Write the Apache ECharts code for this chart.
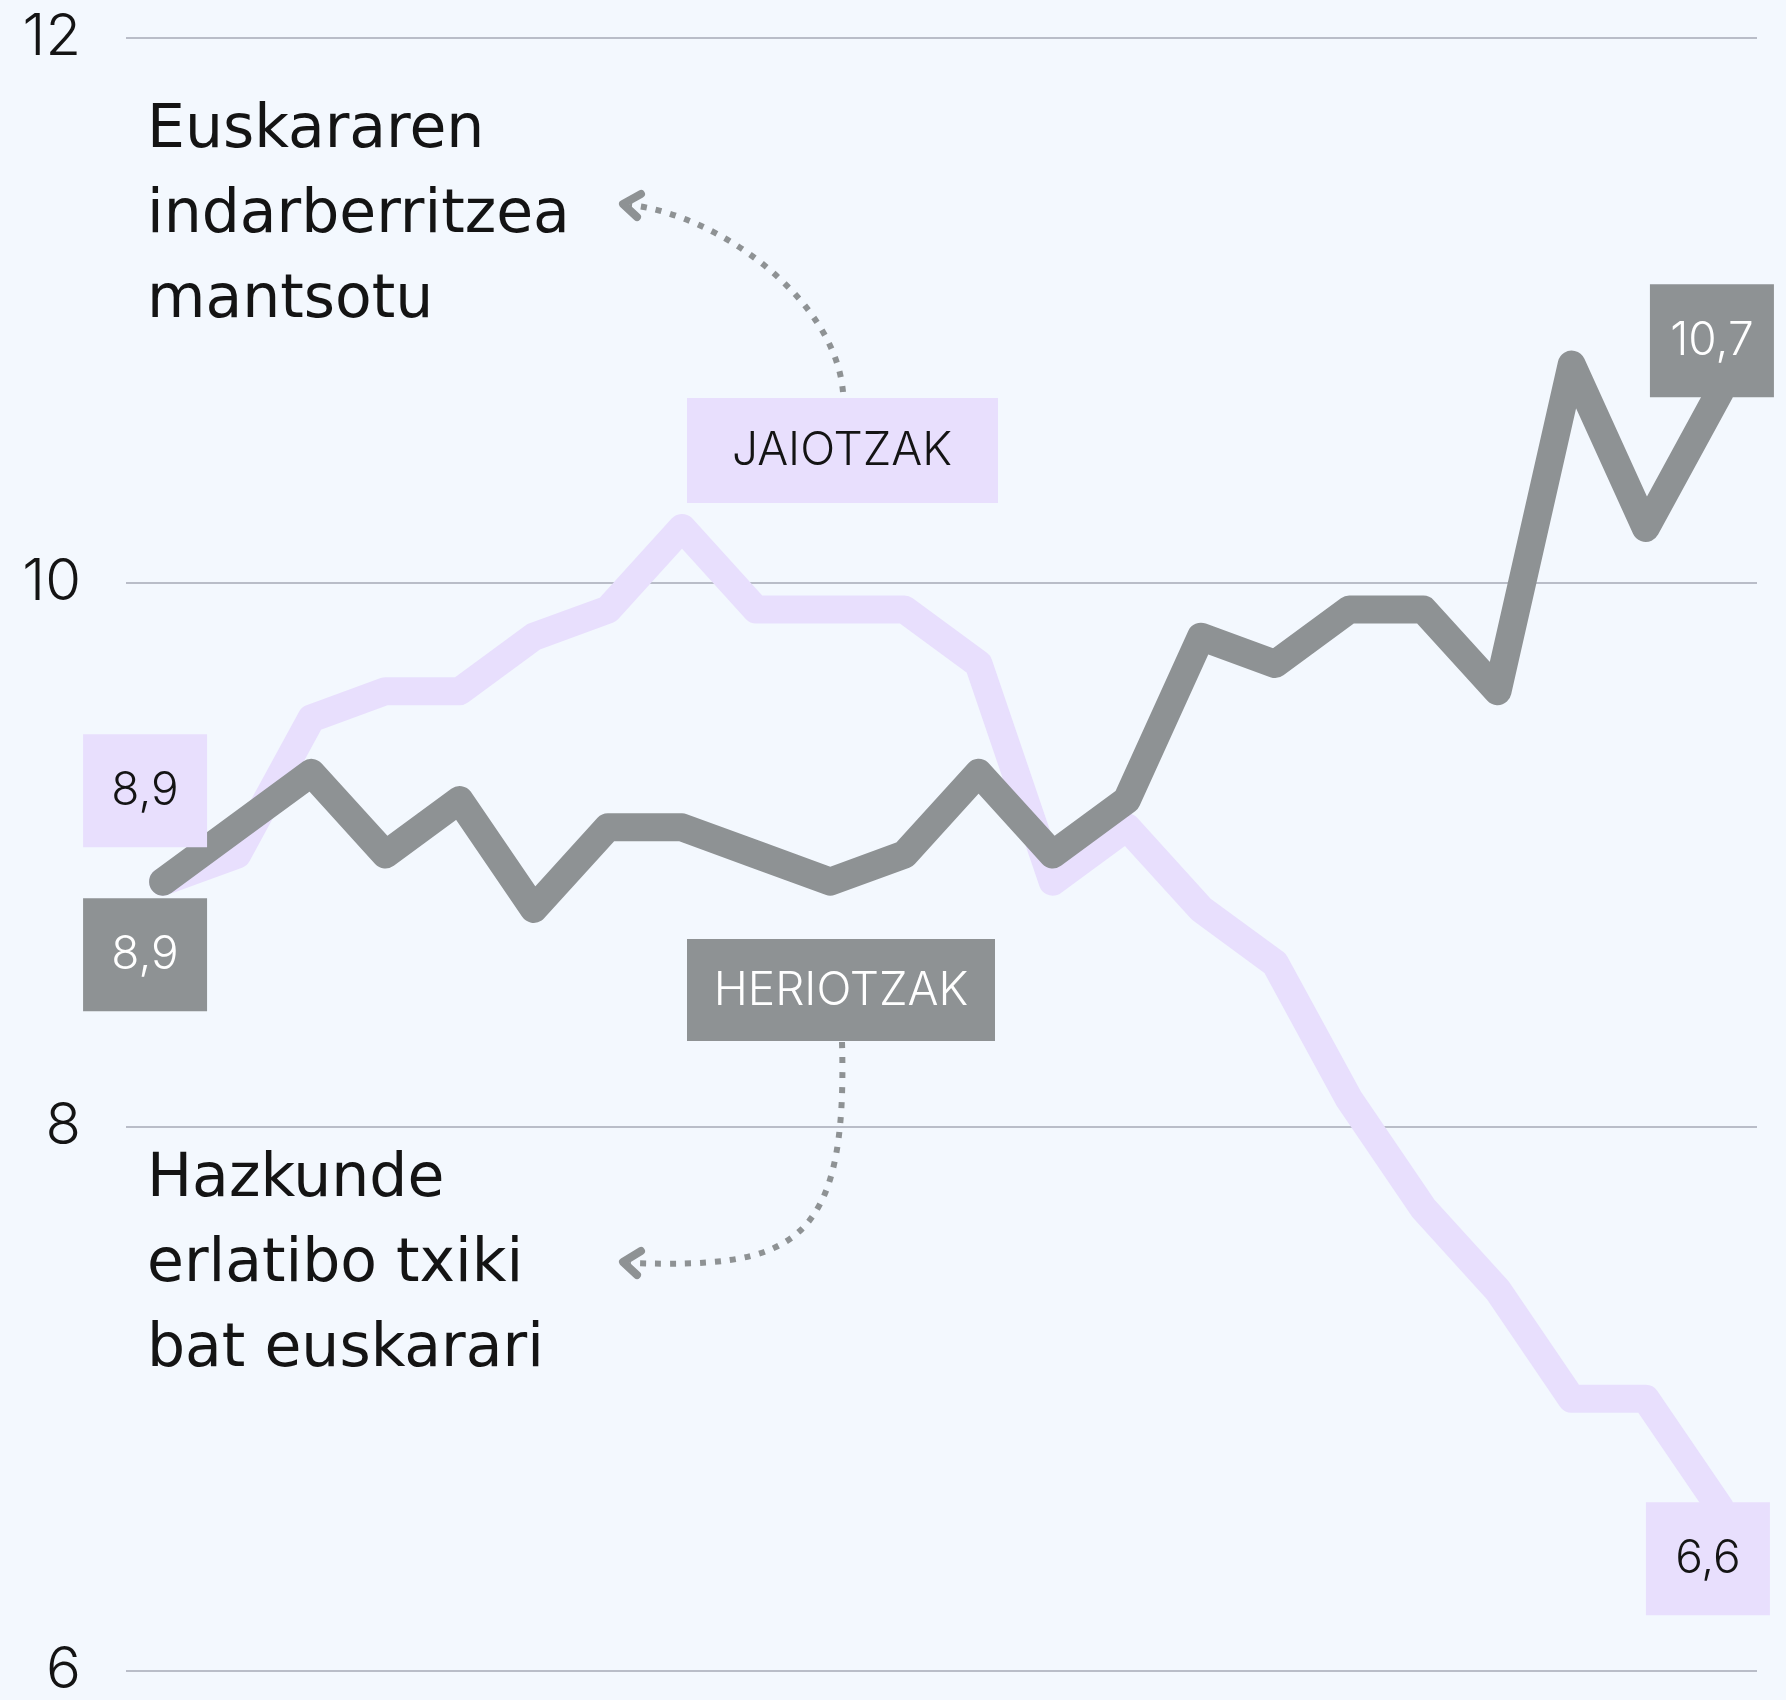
<!DOCTYPE html>
<html>
<head>
<meta charset="utf-8">
<script src="https://cdn.jsdelivr.net/npm/echarts@6/dist/echarts.min.js"></script>
<style>
    html, body { margin: 0; padding: 0; background: #f3f8fe; }
    #chart { width: 1786px; height: 1700px; }
</style>
</head>
<body>
<div id="chart"></div>
<script>
// years are not printed on the chart, only the order matters
const years = ['2000', '2001', '2002', '2003', '2004', '2005', '2006', '2007', '2008', '2009', '2010',
               '2011', '2012', '2013', '2014', '2015', '2016', '2017', '2018', '2019', '2020', '2021']
const births = [8.9, 9.0, 9.5, 9.6, 9.6, 9.8, 9.9, 10.2, 9.9, 9.9, 9.9,
                9.7, 8.9, 9.1, 8.8, 8.6, 8.1, 7.7, 7.4, 7.0, 7.0, 6.6]
const deaths = [8.9, 9.1, 9.3, 9.0, 9.2, 8.8, 9.1, 9.1, 9.0, 8.9, 9.0,
                9.3, 9.0, 9.2, 9.8, 9.7, 9.9, 9.9, 9.6, 10.8, 10.2, 10.7]
const yTicks = [6, 8, 10, 12]

const FONT = 'Inter, "Noto Sans", sans-serif'
const NOTE_FONT = '"DejaVu Sans", "Noto Sans", sans-serif'
const LAVENDER = '#e8dffd'
const GREY = '#8e9294'
const INK = '#141414'

const fmt = v => String(v).replace('.', ',')

// value box sitting next to a line point
function valueBox(idx, val, fill, textColor, dx, dy) {
    return {
        coord: [years[idx], val],
        value: val,
        symbol: 'rect',
        symbolSize: [124, 113],
        symbolOffset: [dx, dy],
        itemStyle: { color: fill },
        label: {
            show: true,
            position: 'inside',
            color: textColor,
            fontSize: 46,
            fontWeight: 300,
            fontFamily: FONT,
            formatter: p => fmt(p.value)
        }
    }
}

const last = years.length - 1
const chart = echarts.init(document.getElementById('chart'))

const option = {
    backgroundColor: '#f3f8fe',
    animation: false,
    grid: { left: 126, right: 29, top: 38, bottom: 25 },
    xAxis: {
        type: 'category',
        data: years,
        boundaryGap: true,
        axisLine: { show: false },
        axisTick: { show: false },
        axisLabel: { show: false },
        splitLine: { show: false }
    },
    yAxis: {
        type: 'value',
        min: yTicks[0],
        max: yTicks[yTicks.length - 1],
        interval: 2,
        axisLine: { show: false },
        axisTick: { show: false },
        axisLabel: {
            color: INK,
            fontSize: 58,
            fontWeight: 300,
            fontFamily: FONT,
            margin: 45
        },
        splitLine: { lineStyle: { color: '#b9bdc8', width: 2 } }
    },
    series: [
        {
            name: 'JAIOTZAK',
            type: 'line',
            data: births,
            z: 2,
            showSymbol: false,
            silent: true,
            lineStyle: { color: LAVENDER, width: 28, cap: 'round', join: 'round' },
            markPoint: {
                silent: true,
                data: [
                    valueBox(0, births[0], LAVENDER, INK, -18, -91),
                    valueBox(last, births[last], LAVENDER, INK, -12, 51)
                ]
            }
        },
        {
            name: 'HERIOTZAK',
            type: 'line',
            data: deaths,
            z: 3,
            showSymbol: false,
            silent: true,
            lineStyle: { color: GREY, width: 28, cap: 'round', join: 'round' },
            markPoint: {
                silent: true,
                data: [
                    valueBox(0, deaths[0], GREY, '#ffffff', -18, 73),
                    valueBox(last, deaths[last], GREY, '#ffffff', -8, -51)
                ]
            }
        }
    ],
    graphic: [
        // series name boxes
        { type: 'rect', shape: { x: 687, y: 398, width: 311, height: 105 }, style: { fill: LAVENDER }, z: 10 },
        { type: 'text', x: 842, y: 451, z: 11,
          style: { text: 'JAIOTZAK', fill: INK, font: `300 46px ${FONT}`, align: 'center', verticalAlign: 'middle' } },
        { type: 'rect', shape: { x: 687, y: 939, width: 308, height: 102 }, style: { fill: GREY }, z: 10 },
        { type: 'text', x: 841, y: 991, z: 11,
          style: { text: 'HERIOTZAK', fill: '#ffffff', font: `300 46px ${FONT}`, align: 'center', verticalAlign: 'middle' } },

        // dotted arrows
        { type: 'bezierCurve', z: 9,
          shape: { x1: 843, y1: 392, cpx1: 835, cpy1: 300, cpx2: 720, cpy2: 215, x2: 630, y2: 205 },
          style: { stroke: GREY, lineWidth: 6, lineDash: [6, 9], fill: null } },
        { type: 'polyline', z: 9,
          shape: { points: [[641, 194], [623, 204], [637, 217]] },
          style: { stroke: GREY, lineWidth: 8, lineCap: 'round', lineJoin: 'round', fill: null } },
        { type: 'bezierCurve', z: 9,
          shape: { x1: 842, y1: 1042, cpx1: 848, cpy1: 1250, cpx2: 790, cpy2: 1268, x2: 630, y2: 1263 },
          style: { stroke: GREY, lineWidth: 6, lineDash: [6, 9], fill: null } },
        { type: 'polyline', z: 9,
          shape: { points: [[641, 1251], [623, 1262], [637, 1275]] },
          style: { stroke: GREY, lineWidth: 8, lineCap: 'round', lineJoin: 'round', fill: null } },

        // annotations
        { type: 'text', x: 147, y: 89, z: 11,
          style: { text: 'Euskararen\nindarberritzea\nmantsotu', fill: INK, font: `60px ${NOTE_FONT}`, lineHeight: 85 } },
        { type: 'text', x: 147, y: 1138, z: 11,
          style: { text: 'Hazkunde\nerlatibo txiki\nbat euskarari', fill: INK, font: `60px ${NOTE_FONT}`, lineHeight: 85 } }
    ]
}

chart.setOption(option)
</script>
</body>
</html>
